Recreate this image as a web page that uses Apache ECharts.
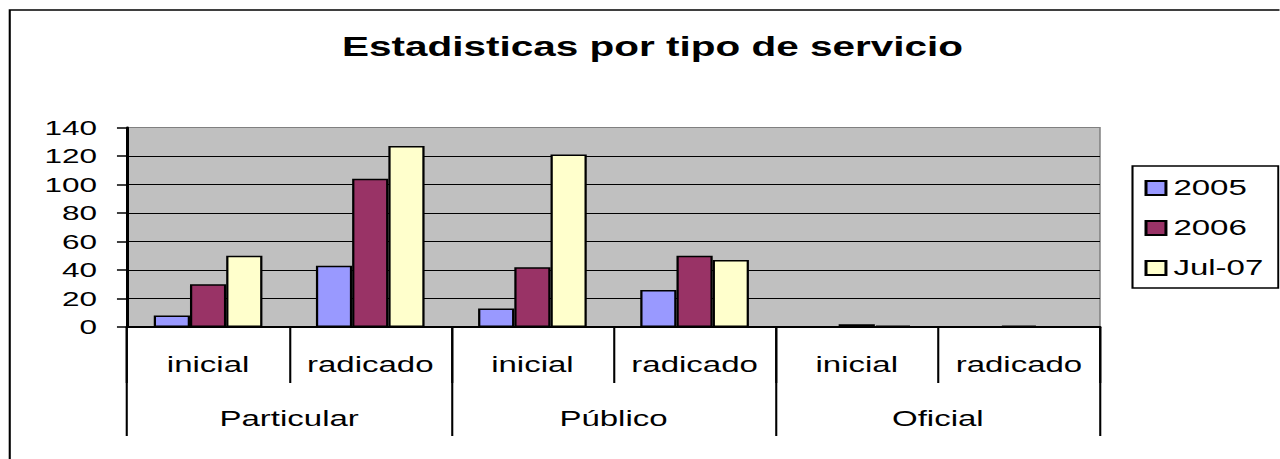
<!DOCTYPE html>
<html>
<head>
<meta charset="utf-8">
<title>Estadisticas por tipo de servicio</title>
<script src="https://cdn.jsdelivr.net/npm/echarts@6/dist/echarts.min.js"></script>
<style>
  html, body { margin: 0; padding: 0; background: #fff; overflow: hidden; }
  /* the source picture is stretched sideways, so the chart is drawn narrow and widened */
  #main { width: 853.333px; height: 459px; transform: scaleX(1.5); transform-origin: 0 0; }
</style>
</head>
<body>
<div id="main"></div>
<script>
  const categories = ['inicial', 'radicado', 'inicial', 'radicado', 'inicial', 'radicado']
  const groups = ['Particular', 'Público', 'Oficial']
  const seriesNames = ['2005', '2006', 'Jul-07']
  const values2005 = [8, 43, 13, 26, 0, 0]
  const values2006 = [30, 104, 42, 50, 2, 1]
  const valuesJul07 = [50, 127, 121, 47, 1, 0]
  const yTicks = [0, 20, 40, 60, 80, 100, 120, 140]

  const font = "'Liberation Sans', Arial, sans-serif"
  const colors = ['#9999FF', '#993366', '#FFFFCC']

  const chart = echarts.init(document.getElementById('main'), null, {renderer: 'svg'})

  const bar = (name, data, i) => ({
    name: name,
    type: 'bar',
    data: data,
    barGap: '0%',
    barCategoryGap: '33%',
    itemStyle: {color: colors[i], borderColor: '#000', borderWidth: 1.5},
    emphasis: {disabled: true}
  })

  const option = {
    animation: false,
    textStyle: {fontFamily: font},
    title: {
      text: 'Estadisticas por tipo de servicio',
      left: 228,
      top: 33,
      padding: 0,
      textStyle: {fontFamily: font, fontSize: 27, fontWeight: 'bold', color: '#000'}
    },
    graphic: [{
      type: 'rect',
      shape: {x: 6.5, y: 10, width: 900, height: 500},
      style: {fill: 'none', stroke: '#000', lineWidth: 1.4},
      silent: true
    }],
    legend: {
      orient: 'vertical',
      left: 755,
      top: 166,
      padding: [11, 10, 9, 8],
      itemGap: 18,
      itemWidth: 13.3,
      itemHeight: 14,
      icon: 'rect',
      borderColor: '#000',
      borderWidth: 1.4,
      backgroundColor: '#fff',
      textStyle: {fontFamily: font, fontSize: 22, color: '#000'},
      data: seriesNames
    },
    grid: {
      left: 84.67,
      right: 119.67,
      top: 127.5,
      bottom: 132,
      show: true,
      backgroundColor: '#C0C0C0',
      borderColor: '#808080',
      borderWidth: 1
    },
    xAxis: [{
      type: 'category',
      data: categories,
      position: 'bottom',
      axisLine: {show: true, lineStyle: {color: '#000', width: 2}},
      axisTick: {show: true, interval: 0, alignWithLabel: false, length: 56, lineStyle: {color: '#000', width: 1.4}},
      axisLabel: {interval: 0, margin: 27, fontFamily: font, fontSize: 22, color: '#000'}
    }, {
      type: 'category',
      data: groups,
      position: 'bottom',
      axisLine: {show: false},
      axisTick: {show: true, interval: 0, alignWithLabel: false, length: 109, lineStyle: {color: '#000', width: 1.4}},
      axisLabel: {interval: 0, margin: 81, fontFamily: font, fontSize: 22, color: '#000'}
    }],
    yAxis: {
      type: 'value',
      min: yTicks[0],
      max: yTicks[yTicks.length - 1],
      interval: 20,
      axisLine: {show: true, lineStyle: {color: '#000', width: 2}},
      axisTick: {show: true, length: 6.7, lineStyle: {color: '#000', width: 1.5}},
      axisLabel: {margin: 20, fontFamily: font, fontSize: 21, color: '#000'},
      splitLine: {
        show: true,
        lineStyle: {
          color: ['#000', '#000', '#000', '#000', '#000', '#000', '#000', '#808080'],
          width: 1
        }
      }
    },
    series: [
      bar(seriesNames[0], values2005, 0),
      bar(seriesNames[1], values2006, 1),
      bar(seriesNames[2], valuesJul07, 2)
    ]
  }
  chart.setOption(option)
</script>
</body>
</html>
